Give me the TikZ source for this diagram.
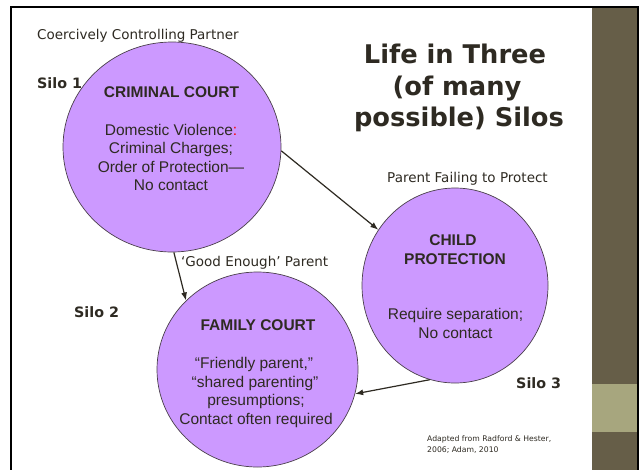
\documentclass[tikz,border=0pt]{standalone}
\usepackage{fontspec}
\setmainfont{Liberation Sans}
\newfontfamily\vfont{DejaVu Sans}
\usetikzlibrary{shapes.geometric,arrows.meta}
\definecolor{silofill}{HTML}{CC99FF}
\definecolor{siloline}{HTML}{4A3F4A}
\definecolor{ink}{HTML}{2E2A22}
\definecolor{barbrown}{HTML}{665E48}
\definecolor{barolive}{HTML}{A7A67E}
\pgfdeclareradialshading{slidebg}{\pgfpoint{0bp}{0bp}}{color(0bp)=(white); color(40bp)=(white); color(54bp)=(black!9); color(71bp)=(black!24)}
\tikzset{
  silo/.style={ellipse, draw=siloline, line width=0.7pt, fill=silofill, inner sep=0pt},
  headtxt/.style={font=\bfseries\fontsize{15.5}{18}\selectfont, text=ink, anchor=base, inner sep=0pt},
  bodytxt/.style={font=\fontsize{15.5}{18}\selectfont, text=ink, anchor=base, inner sep=0pt},
  labtxt/.style={font=\vfont\fontsize{13.5}{16}\selectfont, text=ink, anchor=base west, inner sep=0pt},
  silolab/.style={font=\vfont\bfseries\fontsize{14.3}{17}\selectfont, text=ink, anchor=base west, inner sep=0pt},
  titletxt/.style={font=\vfont\bfseries\fontsize{25.7}{30}\selectfont, text=ink, anchor=base, inner sep=0pt},
  smalltxt/.style={font=\vfont\fontsize{7.7}{9}\selectfont, text=ink, anchor=base west, inner sep=0pt},
  conn/.style={draw=ink, line width=1.2pt, -{Latex[length=8pt,width=6pt]}}
}
\begin{document}
\begin{tikzpicture}[x=1pt,y=-1pt]
\useasboundingbox (0,0) rectangle (639,469);
\clip (0,0) rectangle (639,469);
\fill[white] (0,0) rectangle (639,469);
% slide background
\shade[shading=slidebg] (12,8) rectangle (592,490);
\fill[barbrown] (592,8) rectangle (637,490);
\fill[barolive] (592,384) rectangle (637,432);
\draw[line width=2.2pt, black] (11,7) rectangle (638,490);

% silos
\node[silo, minimum width=218pt, minimum height=210pt] (cc) at (172,147) {};
\node[silo, minimum width=186pt, minimum height=195pt] (cp) at (455,285.5) {};
\node[silo, minimum width=201pt, minimum height=195pt] (fc) at (257.5,369.5) {};

% criminal court text
\node[headtxt] (cc1) at (171.5,97) {CRIMINAL COURT};
\node[bodytxt] (cc2) at (171,135) {Domestic Violence{\color{red}:}};
\node[bodytxt] (cc3) at (171,153.5) {Criminal Charges;};
\node[bodytxt] (cc4) at (171,172) {Order of Protection—};
\node[bodytxt] (cc5) at (171,190.5) {No contact};

% child protection text
\node[headtxt] (cp1) at (453,245) {CHILD};
\node[headtxt] (cp2) at (455,264) {PROTECTION};
\node[bodytxt] (cp3) at (455.5,319.5) {Require separation;};
\node[bodytxt] (cp4) at (455.5,338.5) {No contact};

% family court text
\node[headtxt] (fc1) at (258,330.5) {FAMILY COURT};
\node[bodytxt] (fc2) at (254,368.5) {“Friendly parent,”};
\node[bodytxt] (fc3) at (255,387) {“shared parenting”};
\node[bodytxt] (fc4) at (256,405.5) {presumptions;};
\node[bodytxt] (fc5) at (256,424) {Contact often required};

% labels
\node[labtxt] (l1) at (37,39.5) {Coercively Controlling Partner};
\node[labtxt] (l2) at (387,182) {Parent Failing to Protect};
\node[labtxt] (l3) at (181,266) {‘Good Enough’ Parent};
\node[silolab] (s1) at (37,88) {Silo 1};
\node[silolab] (s2) at (74,317) {Silo 2};
\node[silolab] (s3) at (516,388) {Silo 3};

% title
\node[titletxt] (t1) at (455,63.5) {Life in Three};
\node[titletxt] (t2) at (457,95) {(of many};
\node[titletxt] (t3) at (459,126.7) {possible) Silos};

% source
\node[smalltxt] (src1) at (427,441.5) {Adapted from Radford \& Hester,};
\node[smalltxt] (src2) at (427,452) {2006; Adam, 2010};

% connectors
\draw[conn] (cc.-2) -- (cp.144);
\draw[conn] (cc.-89) -- (fc.136);
\draw[conn] (cp.-105) -- (fc.-14);
\end{tikzpicture}
\end{document}
